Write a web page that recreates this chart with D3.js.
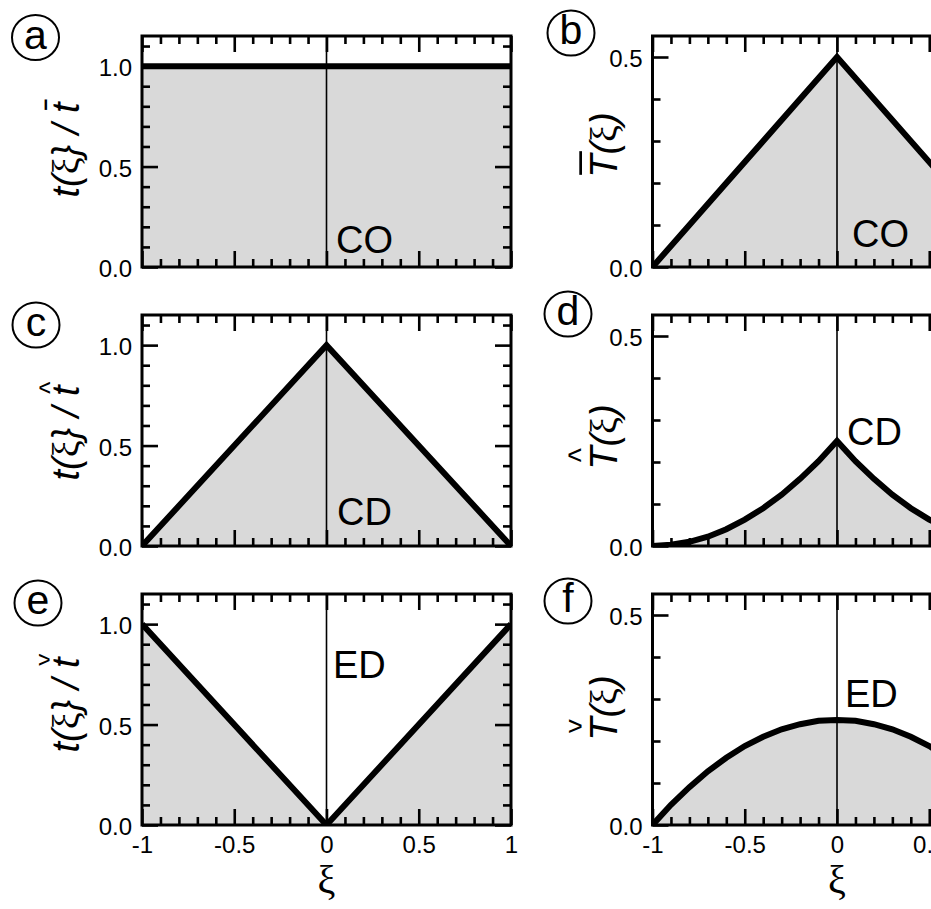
<!DOCTYPE html>
<html>
<head>
<meta charset="utf-8">
<script src="https://cdn.jsdelivr.net/npm/d3@7"></script>
<style>
  body { margin: 0; background: #fff; }
  svg { display: block; }
</style>
</head>
<body>
<svg id="chart" width="931" height="909"></svg>
<script>
// ---- data -------------------------------------------------------------
// corner points of the piecewise-linear profiles
const xiCorners = [-1, 0, 1];
// fine ξ grid used by the curved profiles
const xiGrid = [-1, -0.9, -0.8, -0.7, -0.6, -0.5, -0.4, -0.3, -0.2, -0.1, 0,
                0.1, 0.2, 0.3, 0.4, 0.5, 0.6, 0.7, 0.8, 0.9, 1];

// left column: normalised profiles t(ξ)/t
const tBarCO   = [1, 1, 1];   // (a) CO
const tHatCD   = [0, 1, 0];   // (c) CD
const tCheckED = [1, 0, 1];   // (e) ED

// right column: T(ξ)
const TBarCO   = [0, 0.5, 0]; // (b) CO
const THatCD   = [0, 0.003, 0.01, 0.022, 0.04, 0.063, 0.09, 0.122, 0.16, 0.202, 0.25,
                  0.202, 0.16, 0.122, 0.09, 0.063, 0.04, 0.022, 0.01, 0.003, 0];   // (d) CD
const TCheckED = [0, 0.048, 0.09, 0.128, 0.16, 0.188, 0.21, 0.228, 0.24, 0.248, 0.25,
                  0.248, 0.24, 0.228, 0.21, 0.188, 0.16, 0.128, 0.09, 0.048, 0];   // (f) ED

// axis ticks
const xMajor = [-1, -0.5, 0, 0.5, 1];
const xMajorLabels = ["-1", "-0.5", "0", "0.5", "1"];
const xMinor = [-0.9, -0.8, -0.7, -0.6, -0.4, -0.3, -0.2, -0.1,
                0.1, 0.2, 0.3, 0.4, 0.6, 0.7, 0.8, 0.9];
const yMajorLeft = [0, 0.5, 1.0];
const yMajorLeftLabels = ["0.0", "0.5", "1.0"];
const yMinorLeft = [0.1, 0.2, 0.3, 0.4, 0.6, 0.7, 0.8, 0.9, 1.1];
const yMajorRight = [0, 0.5];
const yMajorRightLabels = ["0.0", "0.5"];
const yMinorRight = [0.1, 0.2, 0.3, 0.4];

const panelLetters = ["a", "b", "c", "d", "e", "f"];
const regimeNames  = ["CO", "CO", "CD", "CD", "ED", "ED"];
// accent glyph and whether it is drawn flipped (a caron is a flipped caret)
const accentGlyphs = ["\u00AF", "\u00AF", "^", "^", "^", "^"];
const accentFlip   = [false, false, false, false, true, true];

// ---- layout -----------------------------------------------------------
const W = 931, H = 909;
const colX = [142, 652.5];
const rowY = [36, 315, 594];
const panelW = 369, panelH = 231;
const sans = "'Liberation Sans', Arial, Helvetica, sans-serif";
const serif = "'Liberation Serif', 'Times New Roman', serif";

// accent box: along-text size, across size, lift above baseline
const panels = [
  { col: 0, row: 0, xs: xiCorners, ys: tBarCO,   ymax: 1.15, side: "left",
    acc: [11, 2.6, 34],   letterPos: [35.5, 37.5], regimePos: [336, 253], labelY: 150 },
  { col: 1, row: 0, xs: xiCorners, ys: TBarCO,   ymax: 0.55, side: "right",
    acc: [25, 3, 38.5],   letterPos: [571, 33],    regimePos: [852, 247], labelY: 145 },
  { col: 0, row: 1, xs: xiCorners, ys: tHatCD,   ymax: 1.15, side: "left",
    acc: [12, 11, 35],    letterPos: [36, 325],    regimePos: [337, 525], labelY: 433 },
  { col: 1, row: 1, xs: xiGrid,    ys: THatCD,   ymax: 0.55, side: "right",
    acc: [14, 13, 42],    letterPos: [568, 314],   regimePos: [847, 445], labelY: 437 },
  { col: 0, row: 2, xs: xiCorners, ys: tCheckED, ymax: 1.15, side: "left",
    acc: [12, 11, 35],    letterPos: [38, 603],    regimePos: [333, 678], labelY: 705 },
  { col: 1, row: 2, xs: xiGrid,    ys: TCheckED, ymax: 0.55, side: "right",
    acc: [14, 13, 42],    letterPos: [568, 601],   regimePos: [845, 707], labelY: 708 }
];

// ink extents of a glyph, used to size the accents
const measureCtx = document.createElement("canvas").getContext("2d");
function inkBox(str, font) {
  measureCtx.font = font;
  const m = measureCtx.measureText(str);
  return { x0: -m.actualBoundingBoxLeft, x1: m.actualBoundingBoxRight,
           y0: -m.actualBoundingBoxAscent, y1: m.actualBoundingBoxDescent };
}

const svg = d3.select("#chart");
svg.append("rect").attr("width", W).attr("height", H).attr("fill", "#fff");

panels.forEach((p, i) => {
  const x0 = colX[p.col], y0 = rowY[p.row];
  const g = svg.append("g").attr("transform", `translate(${x0},${y0})`);
  const x = d3.scaleLinear().domain([-1, 1]).range([0, panelW]);
  const y = d3.scaleLinear().domain([0, p.ymax]).range([panelH, 0]);

  const clipId = "clip-" + panelLetters[i];
  g.append("clipPath").attr("id", clipId)
    .append("rect").attr("width", panelW).attr("height", panelH);

  const pts = p.xs.map((v, k) => [v, p.ys[k]]);
  const area = d3.area().x(d => x(d[0])).y0(y(0)).y1(d => y(d[1]));
  const line = d3.line().x(d => x(d[0])).y(d => y(d[1]));

  const body = g.append("g").attr("clip-path", `url(#${clipId})`);
  body.append("path").attr("d", area(pts)).attr("fill", "#d9d9d9");
  body.append("line")
    .attr("x1", x(0)).attr("x2", x(0)).attr("y1", 0).attr("y2", panelH)
    .attr("stroke", "#000").attr("stroke-width", 1.6);
  body.append("path").attr("d", line(pts))
    .attr("fill", "none").attr("stroke", "#000").attr("stroke-width", 6)
    .attr("stroke-linejoin", "miter");

  // inward ticks on all four sides
  const tickRow = (axisFn, scale, values, size, transform) => {
    const a = axisFn(scale).tickValues(values).tickSize(-size).tickFormat("");
    const ag = g.append("g").attr("transform", transform).call(a);
    ag.select(".domain").remove();
    ag.selectAll(".tick line").attr("stroke", "#000").attr("stroke-width", 2.6);
    return ag;
  };
  const yMinor = p.side === "left" ? yMinorLeft : yMinorRight;
  const yMajor = p.side === "left" ? yMajorLeft : yMajorRight;
  tickRow(d3.axisBottom, x, xMinor, 8, `translate(0,${panelH})`);
  tickRow(d3.axisTop, x, xMinor, 8, "translate(0,0)");
  tickRow(d3.axisTop, x, xMajor, 16, "translate(0,0)");
  tickRow(d3.axisLeft, y, yMinor, 8, "translate(0,0)");
  tickRow(d3.axisRight, y, yMinor, 8, `translate(${panelW},0)`);
  tickRow(d3.axisRight, y, yMajor, 16, `translate(${panelW},0)`);

  // labelled left axis
  const yLabels = p.side === "left" ? yMajorLeftLabels : yMajorRightLabels;
  const la = g.append("g").call(
    d3.axisLeft(y).tickValues(yMajor).tickSize(-16).tickPadding(10)
      .tickFormat((d, k) => yLabels[k]));
  la.select(".domain").remove();
  la.selectAll(".tick line").attr("stroke", "#000").attr("stroke-width", 2.6);
  la.selectAll(".tick text").attr("dy", "0.4em")
    .style("font-family", sans).style("font-size", "24px").attr("fill", "#000");

  // bottom axis: labelled only on the lowest row
  const ba = g.append("g").attr("transform", `translate(0,${panelH})`).call(
    d3.axisBottom(x).tickValues(xMajor).tickSize(-16).tickPadding(11)
      .tickFormat((d, k) => p.row === 2 ? xMajorLabels[k] : ""));
  ba.select(".domain").remove();
  ba.selectAll(".tick line").attr("stroke", "#000").attr("stroke-width", 2.6);
  ba.selectAll(".tick text").style("font-family", sans).style("font-size", "24px").attr("fill", "#000");

  // frame
  g.append("rect").attr("width", panelW).attr("height", panelH)
    .attr("fill", "none").attr("stroke", "#000").attr("stroke-width", 3);

  // regime name
  svg.append("text").attr("x", p.regimePos[0]).attr("y", p.regimePos[1])
    .style("font-family", sans).style("font-size", "38px").attr("fill", "#000")
    .text(regimeNames[i]);

  // circled panel letter
  svg.append("ellipse").attr("cx", p.letterPos[0]).attr("cy", p.letterPos[1])
    .attr("rx", 23.5).attr("ry", 22.5)
    .attr("fill", "none").attr("stroke", "#000").attr("stroke-width", 2);
  svg.append("text").attr("x", p.letterPos[0]).attr("y", p.letterPos[1] + 11)
    .attr("text-anchor", "middle")
    .style("font-family", sans).style("font-size", "41px").attr("fill", "#000")
    .text(panelLetters[i]);

  // rotated y-axis title
  const baseX = p.side === "left" ? 79 : 617;
  const tg = svg.append("g").attr("transform", `translate(${baseX},${p.labelY}) rotate(-90)`);
  const tt = tg.append("text").attr("text-anchor", "middle")
    .style("font-size", "38px").attr("fill", "#000");
  const parts = p.side === "left"
    ? [["t", sans, "italic"], ["(", sans, "italic"], ["ξ", serif, "normal"], ["}", sans, "italic"],
       [" / ", sans, "italic"], ["t", sans, "italic"]]
    : [["T", sans, "italic"], ["(", sans, "italic"], ["ξ", serif, "normal"], [")", sans, "italic"]];
  parts.forEach(([s, f, st]) => {
    tt.append("tspan").text(s).style("font-family", f).style("font-style", st);
  });

  // accent over the reference symbol (last t on the left, T on the right)
  const idx = p.side === "left" ? tt.text().length - 1 : 0;
  const ext = tt.node().getExtentOfChar(idx);
  const cx = ext.x + ext.width / 2 + 3;
  const glyph = accentGlyphs[i];
  const accSize = glyph === "^" ? 30 : 40;
  const b = inkBox(glyph, `${accSize}px 'Liberation Sans'`);
  const sx = p.acc[0] / Math.max(1, b.x1 - b.x0);
  const sy = (accentFlip[i] ? -1 : 1) * p.acc[1] / Math.max(1, b.y1 - b.y0);
  tg.append("text")
    .attr("transform",
      `translate(${cx},${-p.acc[2]}) scale(${sx},${sy}) translate(${-(b.x0 + b.x1) / 2},${-(b.y0 + b.y1) / 2})`)
    .style("font-family", sans).style("font-size", `${accSize}px`).attr("fill", "#000")
    .text(glyph);
});

// ξ axis titles
[0, 1].forEach(c => {
  svg.append("text")
    .attr("x", colX[c] + panelW / 2).attr("y", 893)
    .attr("text-anchor", "middle")
    .style("font-family", serif).style("font-size", "40px").attr("fill", "#000")
    .text("ξ");
});
</script>
</body>
</html>
